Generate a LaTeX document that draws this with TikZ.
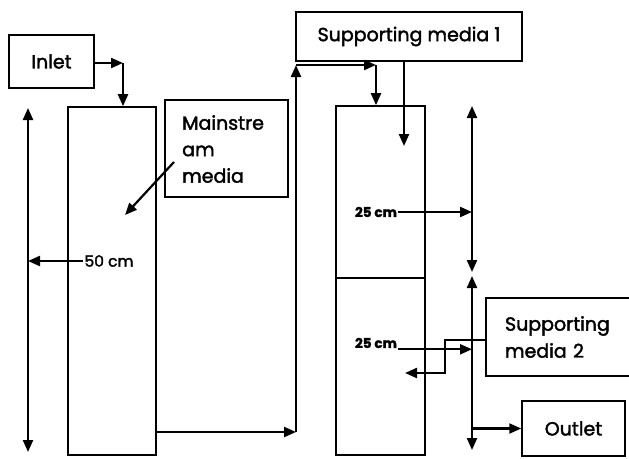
\documentclass[tikz,border=0pt]{standalone}
\usepackage{fontspec}
\setmainfont{Poppins}[RawFeature={embolden=2}]
\usetikzlibrary{arrows.meta}
\tikzset{
  flow/.style={line width=2.2pt, -{Triangle[length=12pt,width=10pt]}},
  dim-line/.style={line width=2.2pt, {Triangle[length=12pt,width=10pt]}-{Triangle[length=12pt,width=10pt]}},
  tag-box/.style={draw, line width=1.5pt, inner sep=0pt, font=\fontsize{19}{27}\selectfont},
  tag-text/.style={inner sep=0pt, align=left, font=\fontsize{19}{26.5}\selectfont},
  column/.style={draw, line width=1.6pt, inner sep=0pt},
  size-label/.style={inner sep=1pt, font=\fontsize{15.5}{17}\selectfont},
  size-label-bold/.style={size-label, font=\bfseries\fontsize{13.5}{15}\selectfont}
}

\begin{document}
\begin{tikzpicture}[x=1pt, y=-1pt]
  \useasboundingbox (0,0) rectangle (629,458);
  % boxes and columns
  \node[tag-box, minimum width=85pt, minimum height=53pt] (inlet) at (51.5,61.5) {Inlet};
  \node[column, minimum width=88pt, minimum height=348pt] (colA) at (112,281) {};
  \node[tag-box, minimum width=123pt, minimum height=97pt] (mainstream) at (226.5,148.5) {};
  \node[tag-text, anchor=north west] (mainstream-text) at (182,115) {Mainstre\\am\\media};
  \node[tag-box, minimum width=226pt, minimum height=49pt] (media1) at (409,36.5) {Supporting media 1};
  \node[column, minimum width=89pt, minimum height=349pt] (colB) at (380.5,280.5) {};
  \draw[line width=1.6pt] (colB.west |- 0,278) -- (colB.east |- 0,278);
  \node[tag-box, minimum width=146pt, minimum height=78pt, align=left,
        text width=108pt, inner xsep=19pt] (media2) at (559,337) {Supporting\\media 2};
  \node[tag-box, minimum width=103pt, minimum height=55pt] (outlet) at (573.5,428.5) {Outlet};
  % sizes
  \node[size-label] (lenA) at (109,261) {50 cm};
  \node[size-label-bold] (lenB1) at (376,212) {25 cm};
  \node[size-label-bold] (lenB2) at (376,343) {25 cm};
  % free ends
  \coordinate (inTurn) at (123,63);
  \coordinate (ms-tail) at (174,162);
  \coordinate (ms-tip) at (125,215);
  \coordinate (leftTop) at (28,108);
  \coordinate (leftBot) at (28,452);
  \coordinate (riseBot) at (296,432);
  \coordinate (riseTop) at (296,65);
  \coordinate (feedB) at (376,65);
  \coordinate (drop1) at (404,146);
  \coordinate (rightTop) at (472,106);
  \coordinate (rightMid1) at (472,272);
  \coordinate (rightMid2) at (472,276);
  \coordinate (rightBot) at (472,450);
  \coordinate (bend2) at (445,373);
  \coordinate (back2) at (405,373);
  % flow
  \draw[flow] (inlet.east |- inTurn) -- (inTurn);
  \draw[flow] (inTurn) -- (inTurn |- colA.north);
  \draw[flow] (ms-tail) -- (ms-tip);
  \draw[flow] (colA.east |- riseBot) -- (riseBot);
  \draw[flow] (riseBot) -- (riseTop);
  \draw[flow] (riseTop) -- (feedB);
  \draw[flow] (feedB) -- (feedB |- colB.north);
  \draw[flow] (drop1 |- media1.south) -- (drop1);
  \draw[flow] ([yshift=-3pt]media2.west) -| (bend2) -- (back2);
  \draw[flow] (rightBot |- outlet.west) -- (outlet.west);
  % dimensions
  \draw[dim-line] (leftTop) -- (leftBot);
  \draw[flow] (lenA.west) -- (lenA.west -| leftTop);
  \draw[dim-line] (rightTop) -- (rightMid1);
  \draw[dim-line] (rightMid2) -- (rightBot);
  \draw[flow] (lenB1.east) -- (lenB1.east -| rightTop);
  \draw[flow] (lenB2.south east) -- (lenB2.south east -| rightTop);
\end{tikzpicture}
\end{document}
